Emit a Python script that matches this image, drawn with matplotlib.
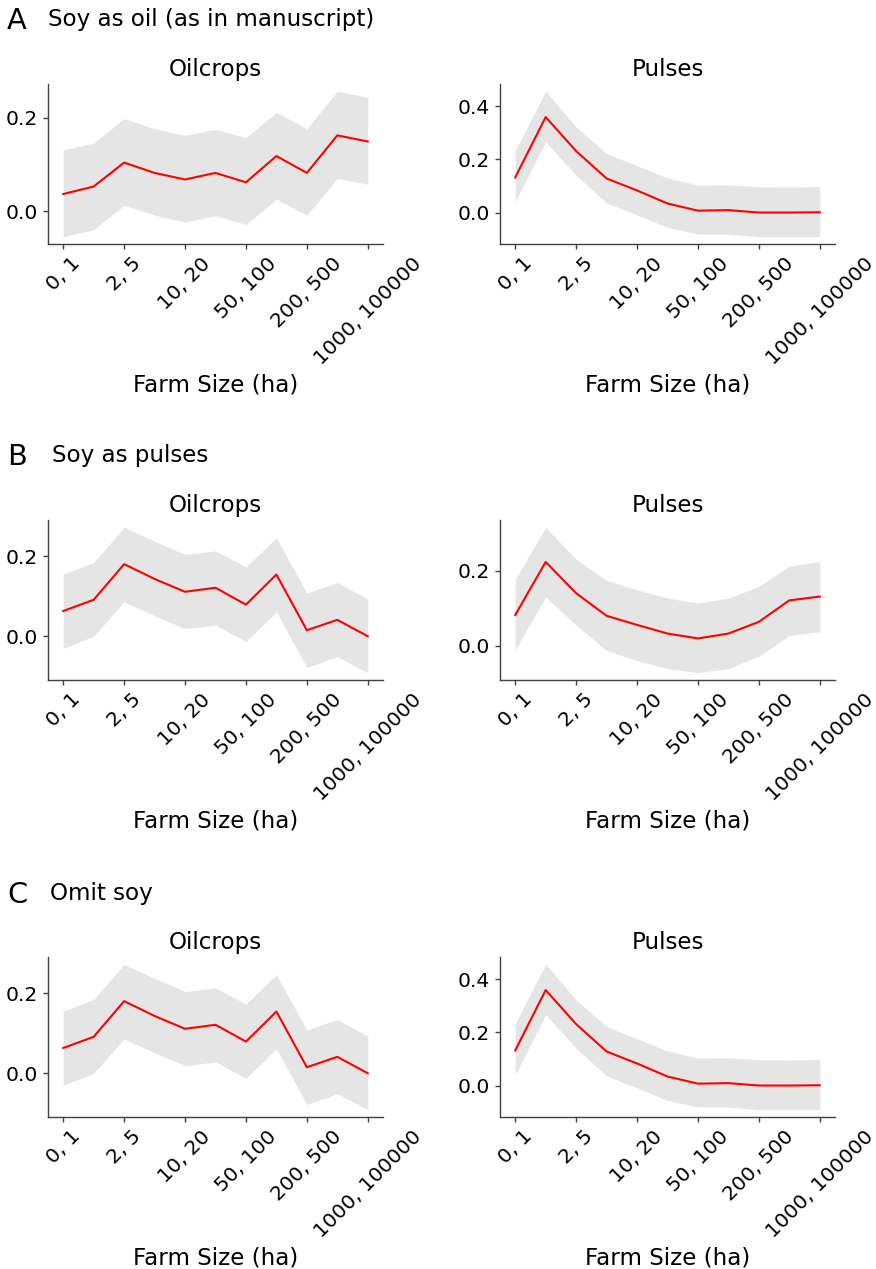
import numpy as np
import matplotlib
matplotlib.use("Agg")
import matplotlib.pyplot as plt

# farm size bins (ha); only every other bin gets a tick label
BINS = ["0, 1", "1, 2", "2, 5", "5, 10", "10, 20", "20, 50", "50, 100",
        "100, 200", "200, 500", "500, 1000", "1000, 100000"]

# Soy counted as oil crop
oil_as_oil_mean = [0.037, 0.053, 0.104, 0.082, 0.068, 0.082, 0.062, 0.118, 0.082, 0.162, 0.149]
oil_as_oil_hi = [0.131, 0.146, 0.198, 0.176, 0.162, 0.175, 0.157, 0.211, 0.176, 0.256, 0.243]
oil_as_oil_lo = [-0.054, -0.039, 0.013, -0.008, -0.023, -0.009, -0.028, 0.026, -0.008, 0.070, 0.058]

pul_as_oil_mean = [0.132, 0.359, 0.231, 0.128, 0.083, 0.034, 0.007, 0.009, 0.000, 0.000, 0.001]
pul_as_oil_hi = [0.232, 0.456, 0.322, 0.222, 0.176, 0.130, 0.103, 0.104, 0.097, 0.096, 0.098]
pul_as_oil_lo = [0.041, 0.266, 0.140, 0.036, -0.009, -0.056, -0.081, -0.081, -0.091, -0.091, -0.091]

# Soy counted as pulse
oil_as_pul_mean = [0.063, 0.091, 0.180, 0.143, 0.111, 0.121, 0.079, 0.154, 0.015, 0.041, 0.000]
oil_as_pul_hi = [0.155, 0.184, 0.272, 0.237, 0.204, 0.213, 0.173, 0.246, 0.108, 0.134, 0.093]
oil_as_pul_lo = [-0.030, 0.000, 0.086, 0.051, 0.019, 0.028, -0.013, 0.061, -0.078, -0.051, -0.091]

pul_as_pul_mean = [0.082, 0.223, 0.140, 0.080, 0.056, 0.033, 0.020, 0.033, 0.064, 0.121, 0.131]
pul_as_pul_hi = [0.177, 0.315, 0.230, 0.174, 0.149, 0.127, 0.114, 0.127, 0.158, 0.212, 0.224]
pul_as_pul_lo = [-0.010, 0.130, 0.055, -0.012, -0.039, -0.060, -0.071, -0.060, -0.027, 0.028, 0.038]

# Soy omitted: oilcrops match the "pulses" case, pulses match the "oil" case
oil_omit_mean, oil_omit_hi, oil_omit_lo = oil_as_pul_mean, oil_as_pul_hi, oil_as_pul_lo
pul_omit_mean, pul_omit_hi, pul_omit_lo = pul_as_oil_mean, pul_as_oil_hi, pul_as_oil_lo

ROWS = [
    ("A", "Soy as oil (as in manuscript)",
     (oil_as_oil_mean, oil_as_oil_lo, oil_as_oil_hi),
     (pul_as_oil_mean, pul_as_oil_lo, pul_as_oil_hi)),
    ("B", "Soy as pulses",
     (oil_as_pul_mean, oil_as_pul_lo, oil_as_pul_hi),
     (pul_as_pul_mean, pul_as_pul_lo, pul_as_pul_hi)),
    ("C", "Omit soy",
     (oil_omit_mean, oil_omit_lo, oil_omit_hi),
     (pul_omit_mean, pul_omit_lo, pul_omit_hi)),
]

W, H = 876, 1269
fig = plt.figure(figsize=(W / 100, H / 100), dpi=100)

col_left = [48, 500]
ax_w = 335
ax_h = 160
row_top = [84, 520, 957]
letter_y = [7, 443, 881]
title_x = [48, 52, 50]

x = np.arange(len(BINS))
SPINE = "0.25"


def panel(ax, data, name):
    mean, lo, hi = data
    ax.fill_between(x, lo, hi, color="k", alpha=0.1, lw=0)
    ax.plot(x, mean, color="red", lw=1.5)
    ax.set_title(name, fontsize=16.6)
    ax.set_xticks(x[::2])
    ax.set_xticklabels(BINS[::2], rotation=45, fontsize=14.6)
    ax.tick_params(axis="y", labelsize=14.6)
    ax.tick_params(color=SPINE, width=1.0)
    ax.yaxis.set_major_locator(matplotlib.ticker.MultipleLocator(0.2))
    ax.set_xlabel("Farm Size (ha)", fontsize=16.6)
    ax.spines["top"].set_visible(False)
    ax.spines["right"].set_visible(False)
    for s in ("left", "bottom"):
        ax.spines[s].set_color(SPINE)
        ax.spines[s].set_linewidth(1.0)


for r, (letter, label, oil, pul) in enumerate(ROWS):
    bottom = 1 - (row_top[r] + ax_h) / H
    ax1 = fig.add_axes([col_left[0] / W, bottom, ax_w / W, ax_h / H])
    ax2 = fig.add_axes([col_left[1] / W, bottom, ax_w / W, ax_h / H])
    panel(ax1, oil, "Oilcrops")
    panel(ax2, pul, "Pulses")
    fig.text(7 / W, 1 - letter_y[r] / H, letter, fontsize=20.8, va="top", ha="left")
    fig.text(title_x[r] / W, 1 - (letter_y[r] + 1) / H, label, fontsize=16.6,
             va="top", ha="left")

fig.savefig("out.png", dpi=100)
